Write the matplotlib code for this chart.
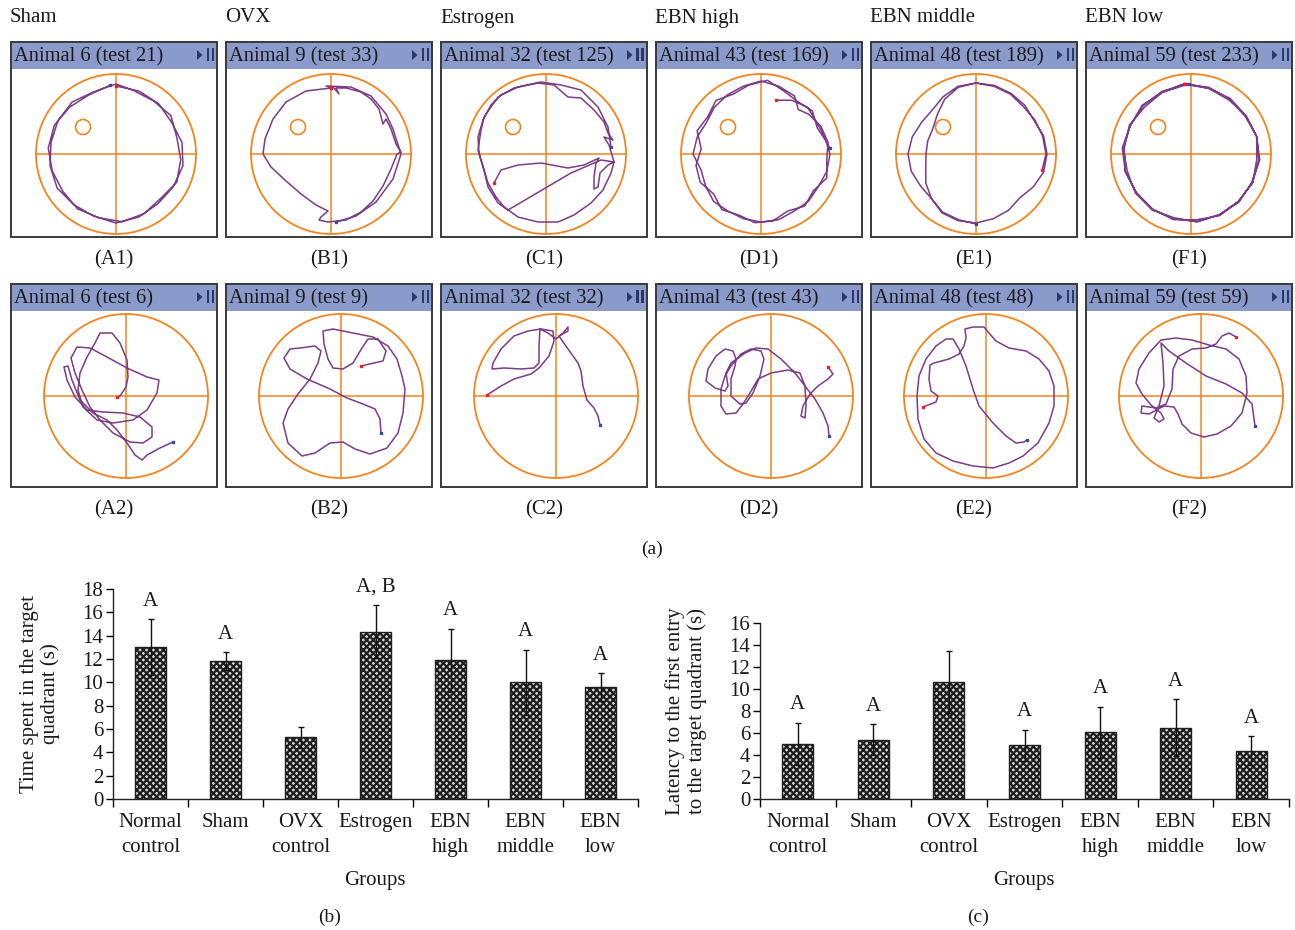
import numpy as np
import matplotlib
matplotlib.use("Agg")
import matplotlib.pyplot as plt
from matplotlib.patches import Rectangle, Circle, Polygon

# ---- data -----------------------------------------------------------------
GROUPS_TOP = ["Sham", "OVX", "Estrogen", "EBN high", "EBN middle", "EBN low"]
TITLES_ROW1 = ["Animal 6 (test 21)", "Animal 9 (test 33)", "Animal 32 (test 125)",
               "Animal 43 (test 169)", "Animal 48 (test 189)", "Animal 59 (test 233)"]
TITLES_ROW2 = ["Animal 6 (test 6)", "Animal 9 (test 9)", "Animal 32 (test 32)",
               "Animal 43 (test 43)", "Animal 48 (test 48)", "Animal 59 (test 59)"]
LABELS_ROW1 = ["(A1)", "(B1)", "(C1)", "(D1)", "(E1)", "(F1)"]
LABELS_ROW2 = ["(A2)", "(B2)", "(C2)", "(D2)", "(E2)", "(F2)"]

# probe-trial tracks near the wall (angle in deg, radius in px from pool centre)
A1_ANG = [90, 70, 50, 30, 10, -10, -30, -50, -70, -90, -110, -130, -150, -170, 170, 150, 130, 110, 90,
          75, 55, 35, 15, -5, -25, -45, -65, -85, -105, -125, -145, -165, 175, 155, 135, 115, 95]
A1_RAD = [68, 67, 66, 64, 67, 68, 66, 65, 67, 69, 66, 66, 68, 67, 66, 67, 68, 66, 70,
          66, 65, 67, 63, 65, 67, 63, 66, 68, 66, 67, 65, 66, 68, 68, 66, 65, 69]
D1_ANG = [74, 60, 45, 30, 15, 0, -15, -30, -45, -60, -75, -90, -105, -120, -135, -150, -165, 180, 165, 150,
          135, 120, 105, 90,
          75, 60, 50, 40, 25, 10, -5, -20, -35, -50, -65, -80, -95, -110, -125, -140, -155, -170, 175, 160,
          145, 130, 115, 100, 85,
          70, 55, 40, 25, 12, 5]
D1_RAD = [56, 62, 66, 64, 66, 69, 68, 66, 67, 66, 68, 68, 67, 66, 67, 64, 62, 68, 66, 63, 66, 68, 70, 73,
          70, 67, 58, 62, 66, 68, 66, 70, 64, 68, 63, 68, 69, 65, 68, 62, 67, 66, 60, 68, 65, 70, 66, 70, 74,
          67, 64, 67, 62, 66, 69]
E1_ANG = [-14, 0, 15, 30, 45, 60, 75, 90, 105, 120, 135, 150, 165, 180, -165, -150, -135, -120, -105, -90,
          -75, -60, -45, -30, -15, 0, 15, 30, 45, 60, 75, 90, 105, 120, 135, 150, 165, 180, -165, -150,
          -135, -120, -105, -90]
E1_RAD = [68, 70, 69, 68, 67, 69, 70, 71, 70, 66, 62, 63, 66, 68, 67, 64, 63, 68, 69, 69,
          67, 65, 62, 66, 70, 71, 70, 67, 69, 70, 71, 71, 69, 63, 55, 50, 50, 50, 52, 58,
          63, 67, 68, 70]
F1_ANG = [95, 75, 55, 35, 15, -5, -25, -45, -65, -85, -105, -125, -145, -165, 175, 155, 135, 115,
          95, 75, 55, 35, 15, -5, -25, -45, -65, -85, -105, -125, -145, -165, 175, 155, 135, 115,
          95, 75, 55, 35, 15, -5, -25, -45, -65, -85, -105, -125, -145, -165, 175, 155, 135, 115, 92]
F1_RAD = [70, 68, 66, 67, 68, 69, 67, 68, 67, 68, 67, 68, 67, 68, 69, 67, 68, 69,
          70, 69, 67, 66, 68, 68, 68, 67, 68, 66, 68, 67, 67, 68, 67, 68, 66, 68,
          71, 68, 68, 67, 68, 66, 68, 67, 67, 68, 66, 68, 68, 66, 68, 67, 69, 68, 70]

# tracks as x/y offsets (px) from pool centre, y up
B1_X = [0, -25, -45, -58, -66, -68, -60, -45, -30, -15, -3, -10, -12, -3, 15, 30, 42, 52, 60, 66,
        70, 65, 60, 55, 52, 48, 40, 30, 15, 5, 8, 3, -5, 20, 40, 55, 62, 70, 62, 45, 25, 5]
B1_Y = [66, 63, 52, 35, 15, 0, -13, -27, -40, -51, -57, -63, -66, -68, -66, -58, -47, -32, -15, 0,
        2, 10, 25, 35, 30, 45, 55, 62, 66, 66, 60, 66, 68, 67, 58, 40, 25, 0, -25, -48, -62, -68]
C1_X = [-52, -45, -28, -5, 22, 38, 53, 50, 48, 48, 52, 54, 62, 68, 65, 57, 45, 28, 12, -8,
        -28, -42, -50, -58, -62, -67, -68, -63, -55, -45, -28, -8, 8, 22, 35, 48, 58, 62, 67, 58,
        63, 68, 55, 25, -38, -48, -58, -62, -68, -65, -62, -48, -32, -5, 15, 35, 52, 62, 65]
C1_Y = [-29, -16, -11, -9, -14, -11, -4, -9, -23, -35, -33, -19, -11, -8, -19, -36, -49, -61, -68, -68,
        -63, -53, -43, -29, -16, 1, 17, 34, 49, 59, 67, 71, 69, 57, 56, 44, 32, 21, 14, 17,
        9, -8, -6, -19, -56, -49, -33, -16, 4, 24, 37, 57, 66, 72, 69, 64, 47, 27, 7]
A2_X = [-9, -6, 0, 2, 1, -6, -14, -26, -31, -39, -46, -48, -43, -29, -13, 7, 21, 31, 33, 21,
        1, -19, -36, -49, -55, -51, -44, -36, -26, -13, 4, 17, 26, 26, 14, -3, -23, -39, -51, -59,
        -62, -58, -54, -46, -33, -19, -9, 1, 9, 16, 21, 34, 47]
A2_Y = [-1, 0, 9, 19, 36, 53, 63, 63, 53, 39, 23, 6, -11, -24, -27, -24, -14, 3, 16, 19,
        28, 39, 48, 49, 38, 23, 6, -11, -24, -37, -46, -47, -41, -31, -21, -17, -16, -14, -1, 16,
        29, 30, 16, -4, -17, -24, -34, -47, -59, -64, -59, -52, -46]
B2_X = [20, 42, 45, 37, 27, 21, 12, 2, -8, -13, -17, -18, -8, 12, 32, 47, 56, 61, 64, 62,
        57, 46, 29, 14, 2, -11, -26, -39, -53, -58, -53, -43, -31, -23, -20, -26, -41, -51, -57, -51,
        -34, -11, 6, 22, 34, 39, 40]
B2_Y = [30, 35, 45, 57, 57, 48, 33, 27, 28, 37, 52, 65, 67, 63, 59, 50, 37, 20, 7, -17,
        -37, -52, -58, -53, -46, -47, -57, -60, -47, -27, -13, 2, 17, 33, 45, 50, 48, 47, 38, 27,
        17, 7, -2, -8, -13, -23, -37]
C2_X = [-69, -55, -42, -25, -17, -7, -2, -3, -15, -28, -42, -55, -63, -64, -52, -35, -22, -17, -17, -16,
        -8, 0, 7, 12, 12, 3, 12, 22, 25, 27, 31, 38, 42, 44]
C2_Y = [1, 10, 17, 22, 28, 40, 55, 65, 67, 65, 60, 47, 33, 27, 28, 27, 28, 33, 50, 67,
        63, 57, 63, 69, 65, 60, 47, 33, 25, 10, -4, -12, -20, -29]
D2_X = [57, 62, 57, 47, 39, 32, 30, 34, 35, 34, 29, 17, 0, -13, -21, -28, -35, -45, -50, -50,
        -46, -40, -30, -20, -10, -7, -11, -18, -25, -31, -40, -40, -36, -35, -38, -46, -55, -63, -65, -56,
        -46, -43, -45, -40, -26, -15, -3, 10, 24, 34, 44, 52, 57, 58]
D2_Y = [29, 22, 17, 10, 2, -10, -20, -22, -10, 10, 23, 26, 23, 17, 3, -8, -17, -18, -10, 7,
        20, 30, 42, 47, 45, 37, 20, 3, -7, -8, 0, 17, 30, 37, 45, 47, 40, 27, 15, 8,
        5, 10, 23, 33, 43, 48, 47, 37, 23, 10, -3, -17, -30, -40]
E2_X = [-63, -50, -48, -55, -57, -56, -52, -37, -27, -22, -20, -21, -13, -2, 3, 10, 23, 40, 53, 63,
        68, 68, 63, 52, 37, 23, 7, -13, -33, -50, -62, -68, -69, -67, -60, -50, -40, -33, -27, -20,
        -13, -7, 7, 20, 30, 38, 41]
E2_Y = [-11, -6, 0, 5, 17, 31, 33, 37, 42, 50, 58, 67, 69, 69, 63, 55, 48, 45, 37, 25,
        10, -10, -27, -47, -60, -67, -72, -70, -65, -57, -43, -23, 0, 20, 37, 50, 57, 57, 47, 30,
        7, -10, -27, -40, -47, -46, -44]
F2_X = [35, 28, 21, 15, 5, -9, -22, -28, -29, -35, -45, -59, -60, -52, -37, -27, -23, -19, -10, 3,
        16, 30, 41, 46, 45, 38, 25, 8, -9, -25, -40, -52, -62, -65, -59, -50, -40, -37, -42, -47,
        -42, -37, -38, -40, -32, -15, 5, 25, 41, 51, 54]
F2_Y = [59, 63, 60, 52, 48, 47, 40, 27, 7, -8, -12, -10, -17, -18, -10, -11, -18, -28, -37, -41,
        -38, -30, -17, 3, 20, 37, 47, 51, 56, 58, 56, 43, 27, 13, 2, -9, -17, -23, -26, -22,
        -10, 10, 33, 53, 45, 33, 20, 12, 3, -8, -30]

# bar charts
BAR_GROUPS = ["Normal\ncontrol", "Sham", "OVX\ncontrol", "Estrogen", "EBN\nhigh", "EBN\nmiddle", "EBN\nlow"]
TIME_VALS = [13.0, 11.85, 5.3, 14.35, 11.9, 10.0, 9.6]
TIME_ERRS = [2.4, 0.75, 0.9, 2.25, 2.7, 2.8, 1.2]
TIME_LETTERS = ["A", "A", "", "A, B", "A", "A", "A"]
LAT_VALS = [5.0, 5.4, 10.65, 4.9, 6.05, 6.5, 4.4]
LAT_ERRS = [1.95, 1.4, 2.85, 1.4, 2.35, 2.55, 1.3]
LAT_LETTERS = ["A", "A", "", "A", "A", "A", "A"]

# ---- style ----------------------------------------------------------------
W, H = 1295, 930
plt.rcParams['font.family'] = ['Liberation Serif', 'DejaVu Serif']
plt.rcParams['font.size'] = 15
plt.rcParams['hatch.linewidth'] = 1.6
TXT = '#1a1a1a'
HEADER = '#8a9bcb'
ICON = '#2c386a'
ORANGE = '#f5841f'
PURPLE = '#7b3c88'
FS = 15

fig = plt.figure(figsize=(W / 100, H / 100), dpi=100)


def px_axes(x, y, w, h):
    return fig.add_axes([x / W, 1 - (y + h) / H, w / W, h / H])


def polar_xy(ang, rad):
    a = np.radians(ang)
    r = np.asarray(rad, float)
    return r * np.cos(a), r * np.sin(a)


def draw_panel(x0, y0, h, cx, r, title, tx, ty, target):
    ax = px_axes(x0, y0, 208, h)
    ax.set_xlim(0, 208)
    ax.set_ylim(h, 0)
    ax.axis('off')
    ax.add_patch(Rectangle((0, 0), 208, 28, fc=HEADER, ec='none'))
    ax.add_patch(Rectangle((0.7, 0.7), 206.6, h - 1.4, fc='none', ec='#3a3a3a', lw=1.4))
    ax.text(4, 16, title, va='center', ha='left', fontsize=14.8, color=TXT)
    ax.add_patch(Polygon([(187, 9), (192.5, 14), (187, 19)], closed=True, fc=ICON, ec='none'))
    ax.add_patch(Rectangle((196.5, 7.5), 2.8, 13, fc=ICON, ec='none'))
    ax.add_patch(Rectangle((201.5, 7.5), 2.8, 13, fc=ICON, ec='none'))
    cy = 113
    ax.add_patch(Circle((cx, cy), r, fc='none', ec=ORANGE, lw=1.3))
    ax.plot([cx - r, cx + r], [cy, cy], color=ORANGE, lw=1.1)
    ax.plot([cx, cx], [cy - r, cy + r], color=ORANGE, lw=1.1)
    if target:
        ax.add_patch(Circle((cx - 33, cy - 27), 7.5, fc='none', ec=ORANGE, lw=1.2))
    px = cx + np.asarray(tx, float)
    py = cy - np.asarray(ty, float)
    ax.plot(px, py, color=PURPLE, lw=1.1, solid_joinstyle='round')
    ax.plot(px[0], py[0], 's', color='#e8202a', ms=2)
    ax.plot(px[-1], py[-1], 's', color='#3a4aa0', ms=2)


row1_tracks = [polar_xy(A1_ANG, A1_RAD), (B1_X, B1_Y), (C1_X, C1_Y),
               polar_xy(D1_ANG, D1_RAD), polar_xy(E1_ANG, E1_RAD), polar_xy(F1_ANG, F1_RAD)]
row2_tracks = [(A2_X, A2_Y), (B2_X, B2_Y), (C2_X, C2_Y), (D2_X, D2_Y), (E2_X, E2_Y), (F2_X, F2_Y)]

for i in range(6):
    x0 = 10 + 215 * i
    fig.text(x0 / W, 1 - 18 / H, GROUPS_TOP[i], ha='left', va='center', fontsize=FS, color=TXT)
    draw_panel(x0, 41, 197, 106, 80, TITLES_ROW1[i], *row1_tracks[i], True)
    fig.text((x0 + 104) / W, 1 - 260 / H, LABELS_ROW1[i], ha='center', va='center', fontsize=FS, color=TXT)
    draw_panel(x0, 283, 205, 116, 82, TITLES_ROW2[i], *row2_tracks[i], False)
    fig.text((x0 + 104) / W, 1 - 510 / H, LABELS_ROW2[i], ha='center', va='center', fontsize=FS, color=TXT)

fig.text(652 / W, 1 - 549 / H, "(a)", ha='center', va='center', fontsize=14, color=TXT)


def bar_panel(left, top, width, height, vals, errs, letters, ymax, ylabel, ylab_x, xlab_x, tag, tag_x):
    ax = px_axes(left, top, width, height)
    x = np.arange(len(vals))
    ax.bar(x, vals, width=0.41, color='#d8d8d8', edgecolor='#1e1e1e', hatch='xxxxx', lw=1.0, zorder=2)
    ax.errorbar(x, vals, yerr=errs, fmt='none', ecolor='#111111', elinewidth=1.0,
                capsize=2.5, capthick=1.0, zorder=3)
    for xi, v, e, t in zip(x, vals, errs, letters):
        if t:
            ax.annotate(t, (xi, v + e), xytext=(0, 6), textcoords='offset points',
                        ha='center', va='bottom', fontsize=FS, color=TXT)
    ax.set_xlim(-0.5, len(vals) - 0.5)
    ax.set_ylim(0, ymax)
    ax.set_yticks(np.arange(0, ymax + 1, 2))
    ax.set_xticks(x)
    ax.set_xticklabels(BAR_GROUPS, linespacing=1.42)
    ax.set_xticks(np.arange(-0.5, len(vals), 1), minor=True)
    ax.tick_params(axis='x', which='major', length=0, pad=10, labelsize=FS, labelcolor=TXT)
    ax.tick_params(axis='x', which='minor', length=6, width=1, direction='out')
    ax.tick_params(axis='y', length=5, width=1, direction='out', labelsize=FS, labelcolor=TXT, pad=2)
    for s in ['top', 'right']:
        ax.spines[s].set_visible(False)
    for s in ['left', 'bottom']:
        ax.spines[s].set_linewidth(1.0)
        ax.spines[s].set_color('#222222')
    fig.text(ylab_x / W, 1 - (top + height / 2) / H, ylabel, rotation=90, ha='center', va='center',
             fontsize=FS, color=TXT, linespacing=1.1)
    fig.text(xlab_x / W, 1 - 880 / H, "Groups", ha='center', va='center', fontsize=FS, color=TXT)
    fig.text(tag_x / W, 1 - 917 / H, tag, ha='center', va='center', fontsize=14, color=TXT)


bar_panel(113, 589, 525, 210, TIME_VALS, TIME_ERRS, TIME_LETTERS, 18,
          "Time spent in the target\nquadrant (s)", 40, 375, "(b)", 330)
bar_panel(760, 623, 529, 176, LAT_VALS, LAT_ERRS, LAT_LETTERS, 16,
          "Latency to the first entry\nto the target quadrant (s)", 686, 1024, "(c)", 978)

fig.savefig("out.png", dpi=100)
